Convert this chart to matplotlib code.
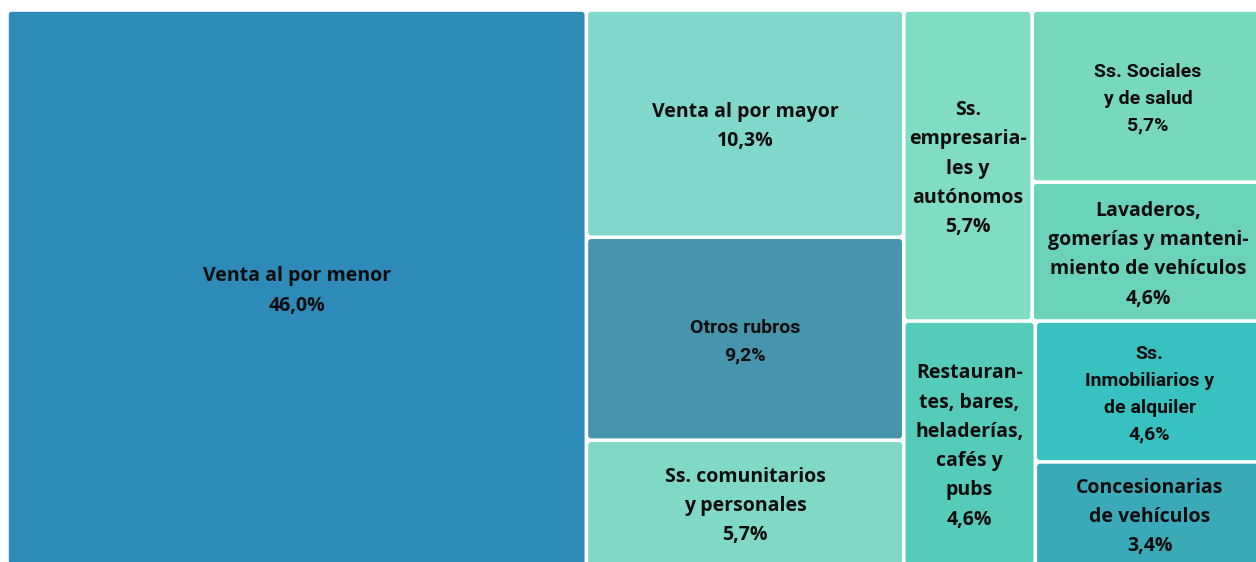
import matplotlib.pyplot as plt
from matplotlib.patches import FancyBboxPatch

# Values (% of total) for each rubro
labels = [
    'Venta al por menor',
    'Venta al por mayor',
    'Otros rubros',
    'Ss. comunitarios\ny personales',
    'Ss.\nempresaria-\nles y\nautónomos',
    'Ss. Sociales\ny de salud',
    'Lavaderos,\ngomerías y manteni-\nmiento de vehículos',
    'Restauran-\ntes, bares,\nheladerías,\ncafés y\npubs',
    'Ss.\nInmobiliarios y\nde alquiler',
    'Concesionarias\nde vehículos',
]
values = [46.0, 10.3, 9.2, 5.7, 5.7, 5.7, 4.6, 4.6, 4.6, 3.4]
colors = ['#2e8bb9', '#80d8cb', '#4795ad', '#80d9c6', '#80dcc2',
          '#78d8bc', '#6cd3bb', '#55cbb9', '#37c1c1', '#3aaab8']
# narrower font for the labels that were squeezed in the original
condensed = [False, False, True, False, False, True, False, False, True, False]

# nesting of the treemap (indices into the lists above)
# 'h' = split left-to-right, 'v' = split top-to-bottom
tree = ('h', [0,
              ('v', [1, 2, 3]),
              ('v', [('h', [4, ('v', [5, 6])]),
                     ('h', [7, ('v', [8, 9])])])])


def total(node):
    if isinstance(node, int):
        return values[node]
    return sum(total(c) for c in node[1])


def layout(node, x, y, w, h, out):
    if isinstance(node, int):
        out[node] = (x, y, w, h)
        return
    kind, kids = node
    s = total(node)
    pos = 0.0
    for k in kids:
        f = total(k) / s
        if kind == 'h':
            layout(k, x + pos * w, y, f * w, h, out)
        else:
            layout(k, x, y + pos * h, w, f * h, out)
        pos += f


rects = {}
# treemap area in pixel coordinates (it runs a bit past the right/bottom edge)
layout(tree, 7, 10, 1257, 556, rects)

fig = plt.figure(figsize=(12.56, 5.62), dpi=100)
ax = fig.add_axes([0, 0, 1, 1])
ax.set_xlim(0, 1256)
ax.set_ylim(562, 0)
ax.axis('off')

gap = 1.8
for i, (x, y, w, h) in rects.items():
    box = FancyBboxPatch((x + gap, y + gap), w - 2 * gap, h - 2 * gap,
                         boxstyle='round,pad=0,rounding_size=3',
                         facecolor=colors[i], edgecolor='none')
    ax.add_patch(box)
    if condensed[i]:
        fam, size = ['Roboto', 'DejaVu Sans'], 14
    else:
        fam, size = ['Open Sans', 'DejaVu Sans'], 14
    txt = labels[i] + '\n' + f'{values[i]:.1f}%'.replace('.', ',')
    ax.text(x + w / 2, y + h / 2 + 3, txt, ha='center', va='center',
            fontsize=size, fontweight='bold', family=fam, color='#0d0d0d',
            linespacing=1.62)

fig.savefig('out.png', dpi=100, facecolor='white')
